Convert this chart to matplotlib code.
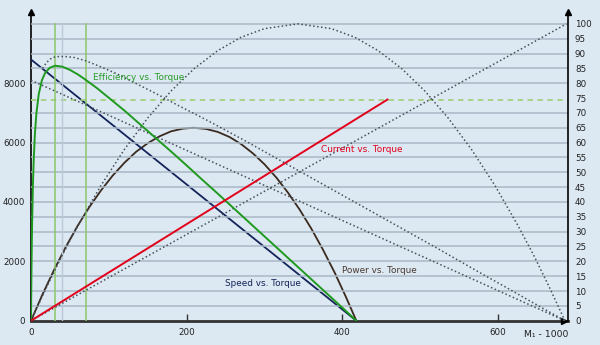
import matplotlib
matplotlib.use("Agg")
import matplotlib.pyplot as plt

# ---------------- data ----------------
speed_torque = [0, 418]
speed_rpm = [8800, 0]

power_torque = [0, 15, 30, 45, 60, 75, 90, 105, 120, 135, 150, 165, 180, 195, 209,
                225, 240, 255, 270, 285, 300, 315, 330, 345, 360, 375, 390, 405, 418]
power_val = [0, 900, 1730, 2500, 3200, 3830, 4390, 4890, 5320, 5690, 5980, 6210, 6380, 6470, 6500,
             6460, 6360, 6190, 5950, 5640, 5270, 4830, 4320, 3750, 3110, 2400, 1630, 780, 0]

eff_torque = [0, 0.5, 1, 1.5, 2.5, 3.5, 5, 7, 10, 14, 18, 24, 31, 40, 50, 60, 70, 85, 100,
              120, 140, 160, 180, 200, 220, 240, 260, 280, 300, 320, 340, 360, 380, 400, 418]
eff_val = [0, 14.5, 25.4, 33.8, 46.0, 54.3, 62.8, 70.0, 76.4, 81.0, 83.4, 85.2, 85.9, 85.6, 84.5,
           83.0, 81.2, 78.3, 75.1, 70.8, 66.2, 61.6, 57.0, 52.3, 47.5, 42.8, 38.0, 33.2, 28.4,
           23.6, 18.8, 14.0, 9.2, 4.4, 0]

current_torque = [0, 458]
current_val = [0, 74.5]

# dotted (extended / theoretical) curves, right-axis units
dot_eff_torque = [15, 20, 25, 30, 36, 44, 55, 70, 90, 110, 135, 160, 190, 220, 250, 280, 310,
                  340, 370, 400, 430, 460, 490, 520, 550, 580, 610, 640, 665, 686]
dot_eff_val = [85.0, 87.0, 88.2, 88.8, 89.0, 89.0, 88.7, 87.6, 85.5, 83.2, 79.9, 76.6, 72.4, 68.4,
               64.2, 59.9, 55.5, 51.1, 46.7, 42.3, 37.9, 33.5, 29.1, 24.7, 20.2, 15.7, 11.3, 6.8, 3.1, 0]

dot_pow_torque = [0, 20, 40, 60, 90, 120, 150, 180, 210, 240, 270, 300, 343,
                  386, 416, 446, 476, 506, 536, 566, 596, 626, 646, 666, 686]
dot_pow_val = [0, 11.3, 22.0, 31.9, 45.6, 57.7, 68.3, 77.4, 85.0, 91.0, 95.5, 98.4, 100,
               98.4, 95.5, 91.0, 85.0, 77.4, 68.3, 57.7, 45.6, 31.9, 22.0, 11.3, 0]

dot_speed_torque = [0, 686]
dot_speed_val = [81, 0]

dot_cur_torque = [0, 688]
dot_cur_val = [0, 100]

marker_torque = [31, 71]
marker_gray_torque = [40]
eff_level = 74.5

left_ticks = [0, 2000, 4000, 6000, 8000]
right_ticks = list(range(0, 101, 5))
x_ticks = [0, 200, 400, 600]

# ---------------- style ----------------
BG = "#dce8f2"
GRID = "#a9b9c5"
NAVY = "#14245a"
GREEN = "#1f9a1f"
RED = "#e2001a"
BROWN = "#3b2a1e"
DOT = "#46505a"
FONT = "DejaVu Sans"

fig = plt.figure(figsize=(6, 3.45), dpi=100, facecolor=BG)
ax = fig.add_axes([31 / 600, (345 - 320.7) / 345, (568 - 31) / 600, (320.7 - 12) / 345])
ax.set_facecolor(BG)
ax2 = ax.twinx()

ax.set_xlim(0, 690)
ax.set_ylim(0, 10400)
ax2.set_ylim(0, 104)

# grid lines (every 5 units on the right scale)
for v in right_ticks[1:]:
    if abs(v - 75) < 0.1:
        continue
    ax2.axhline(v, color=GRID, lw=1.1, zorder=1)
ax2.axhline(eff_level, color="#a5d07e", lw=1.3, ls=(0, (3, 2.5)), zorder=2)

for xv in marker_gray_torque:
    ax2.plot([xv, xv], [0, 100], color="#b9c9d6", lw=1.0, zorder=2)
for xv in marker_torque:
    ax2.plot([xv, xv], [0, 100], color="#8cc768", lw=1.1, zorder=2)

dstyle = dict(color=DOT, lw=1.1, ls=(0, (1, 1.6)), zorder=3)
ax2.plot(dot_pow_torque, dot_pow_val, **dstyle)
ax2.plot(dot_eff_torque, dot_eff_val, **dstyle)
ax2.plot(dot_speed_torque, dot_speed_val, **dstyle)
ax2.plot(dot_cur_torque, dot_cur_val, **dstyle)

ax.plot(power_torque, power_val, color=BROWN, lw=1.3, zorder=4)
ax.plot(speed_torque, speed_rpm, color=NAVY, lw=1.3, zorder=4)
ax2.plot(eff_torque, eff_val, color=GREEN, lw=1.4, zorder=5)
ax2.plot(current_torque, current_val, color=RED, lw=1.4, zorder=5)

# axes lines
for a in (ax, ax2):
    a.spines["top"].set_visible(False)
ax.spines["left"].set_color("black")
ax.spines["left"].set_linewidth(1.2)
ax2.spines["right"].set_color("black")
ax2.spines["right"].set_linewidth(1.2)
ax.spines["bottom"].set_color("#333333")
ax.spines["bottom"].set_linewidth(2.0)
ax.spines["right"].set_visible(False)
ax2.spines["left"].set_visible(False)
ax2.spines["bottom"].set_visible(False)

# arrow heads
ax.plot([0], [1], transform=ax.transAxes, marker="^", ms=5, color="black", clip_on=False, zorder=10)
ax.plot([1], [1], transform=ax.transAxes, marker="^", ms=5, color="black", clip_on=False, zorder=10)
ax.plot([0.993], [0], transform=ax.transAxes, marker=">", ms=5, color="black", clip_on=False, zorder=10)

# ticks
ax.set_yticks(left_ticks)
ax.set_yticklabels([str(t) for t in left_ticks], fontsize=6.3, family=FONT, color="#222222")
ax.tick_params(axis="y", length=0, pad=4)
ax2.set_yticks(right_ticks)
ax2.set_yticklabels([str(t) for t in right_ticks], fontsize=6.3, family=FONT, color="#222222")
ax2.tick_params(axis="y", length=0, pad=5)
ax.set_xticks(x_ticks)
ax.set_xticklabels([str(t) for t in x_ticks], fontsize=6.3, family=FONT, color="#222222")
ax.tick_params(axis="x", direction="in", length=5, width=1, color="#333333", pad=5)
ax.xaxis.get_major_ticks()[0].tick1line.set_visible(False)

ax.text(1.0, -0.045, "M₁ - 1000", transform=ax.transAxes, ha="right", va="center",
        fontsize=6.7, family=FONT, color="#222222")

# curve labels
ax2.text(80, 82.0, "Efficiency vs. Torque", color="#2a9a2a", fontsize=6.4, family=FONT, ha="left", va="center")
ax2.text(425, 57.7, "Current vs. Torque", color=RED, fontsize=6.4, family=FONT, ha="center", va="center")
ax2.text(448, 17.0, "Power vs. Torque", color="#4a3a30", fontsize=6.4, family=FONT, ha="center", va="center")
ax.text(298, 1240, "Speed vs. Torque", color=NAVY, fontsize=6.4, family=FONT, ha="center", va="center")

fig.savefig("out.png", dpi=100, facecolor=BG)
